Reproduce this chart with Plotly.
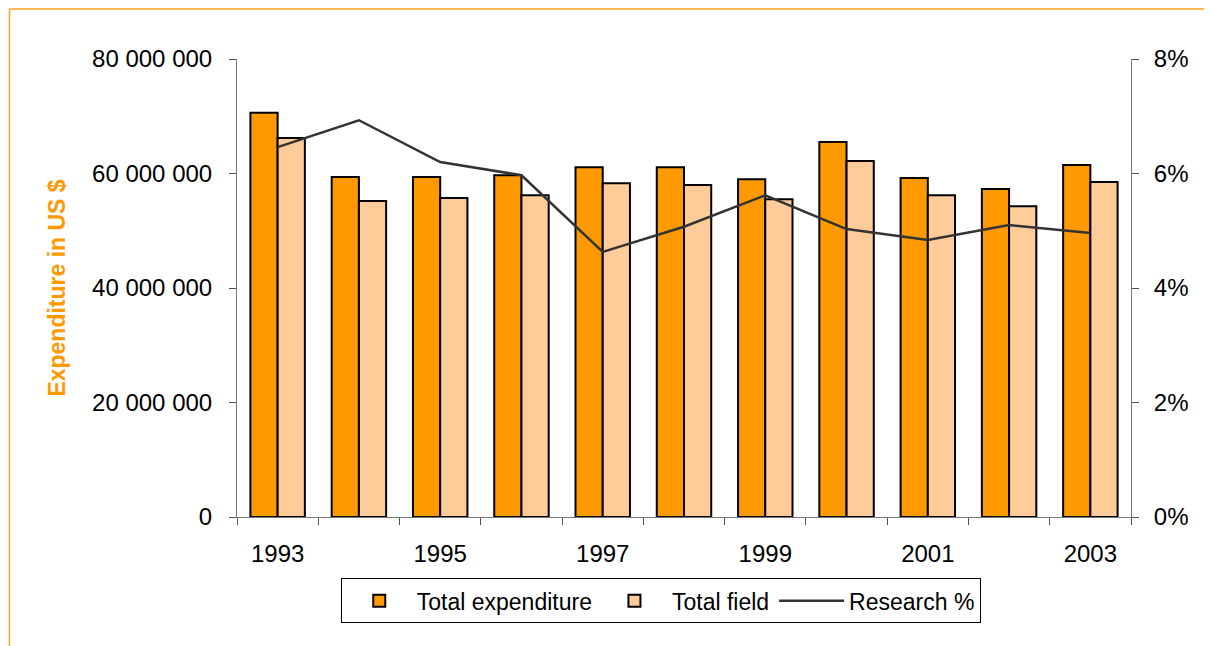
import plotly.graph_objects as go

years = ["1993", "1994", "1995", "1996", "1997", "1998", "1999", "2000", "2001", "2002", "2003"]
total_expenditure = [70.6e6, 59.4e6, 59.4e6, 59.7e6, 61.1e6, 61.1e6, 59.0e6, 65.5e6, 59.2e6, 57.3e6, 61.5e6]
total_field = [66.2e6, 55.2e6, 55.7e6, 56.2e6, 58.3e6, 58.0e6, 55.5e6, 62.2e6, 56.2e6, 54.3e6, 58.5e6]
research_pct = [0.0646, 0.0693, 0.0620, 0.0597, 0.0463, 0.0507, 0.0562, 0.0503, 0.0484, 0.0510, 0.0496]

y_ticks = [0, 20e6, 40e6, 60e6, 80e6]
y_ticktext = ["0", "20 000 000", "40 000 000", "60 000 000", "80 000 000"]
x_ticktext = [y if i % 2 == 0 else "" for i, y in enumerate(years)]

FONT = "Liberation Sans, Arial, sans-serif"

fig = go.Figure()
fig.add_trace(go.Bar(
    x=years, y=total_expenditure, name="Total expenditure",
    marker=dict(color="#FF9900", line=dict(color="black", width=2)),
))
fig.add_trace(go.Bar(
    x=years, y=total_field, name="Total field",
    marker=dict(color="#FFCC99", line=dict(color="black", width=2)),
))
fig.add_trace(go.Scatter(
    x=years, y=research_pct, name="Research %", yaxis="y2",
    mode="lines", line=dict(color="#333333", width=2.5),
))

# orange frame around the chart (only top and left visible)
fx, fy = -0.2545, 1.1092
fig.add_shape(type="line", xref="paper", yref="paper",
              x0=fx, x1=1.2, y0=fy, y1=fy,
              line=dict(color="#FFA31A", width=1.5))
fig.add_shape(type="line", xref="paper", yref="paper",
              x0=fx, x1=fx, y0=-0.35, y1=fy,
              line=dict(color="#FFA31A", width=1.5))

fig.update_layout(
    width=1212, height=646,
    margin=dict(l=229, r=89, t=51, b=137),
    paper_bgcolor="white", plot_bgcolor="white",
    font=dict(family=FONT, size=24, color="black"),
    barmode="group", bargap=0.33, bargroupgap=0,
    showlegend=True,
    legend=dict(
        orientation="h", x=0.474, xanchor="center", y=-0.183, yanchor="middle",
        bordercolor="black", borderwidth=1, font=dict(size=23),
        traceorder="normal", itemwidth=65,
    ),
    xaxis=dict(
        type="category", tickvals=years, ticktext=x_ticktext,
        tickson="boundaries", ticks="outside", ticklen=7, tickcolor="#555555",
        showline=True, linecolor="#777777", linewidth=1,
        showgrid=False, ticklabelstandoff=15,
    ),
    yaxis=dict(
        range=[0, 80e6], tickvals=y_ticks, ticktext=y_ticktext,
        ticks="outside", ticklen=7, tickcolor="#555555",
        showline=True, linecolor="#777777", linewidth=1,
        showgrid=False, zeroline=False, ticklabelstandoff=12,
        title=dict(text="<b>Expenditure in US $</b>", font=dict(color="#FF9900", size=23),
                   standoff=20),
    ),
    yaxis2=dict(
        overlaying="y", side="right", range=[0, 0.08], dtick=0.02, tickformat=".0%",
        ticks="outside", ticklen=7, tickcolor="#555555",
        showline=True, linecolor="#777777", linewidth=1,
        showgrid=False, zeroline=False, ticklabelstandoff=10,
    ),
)

fig.write_html("out.html")
